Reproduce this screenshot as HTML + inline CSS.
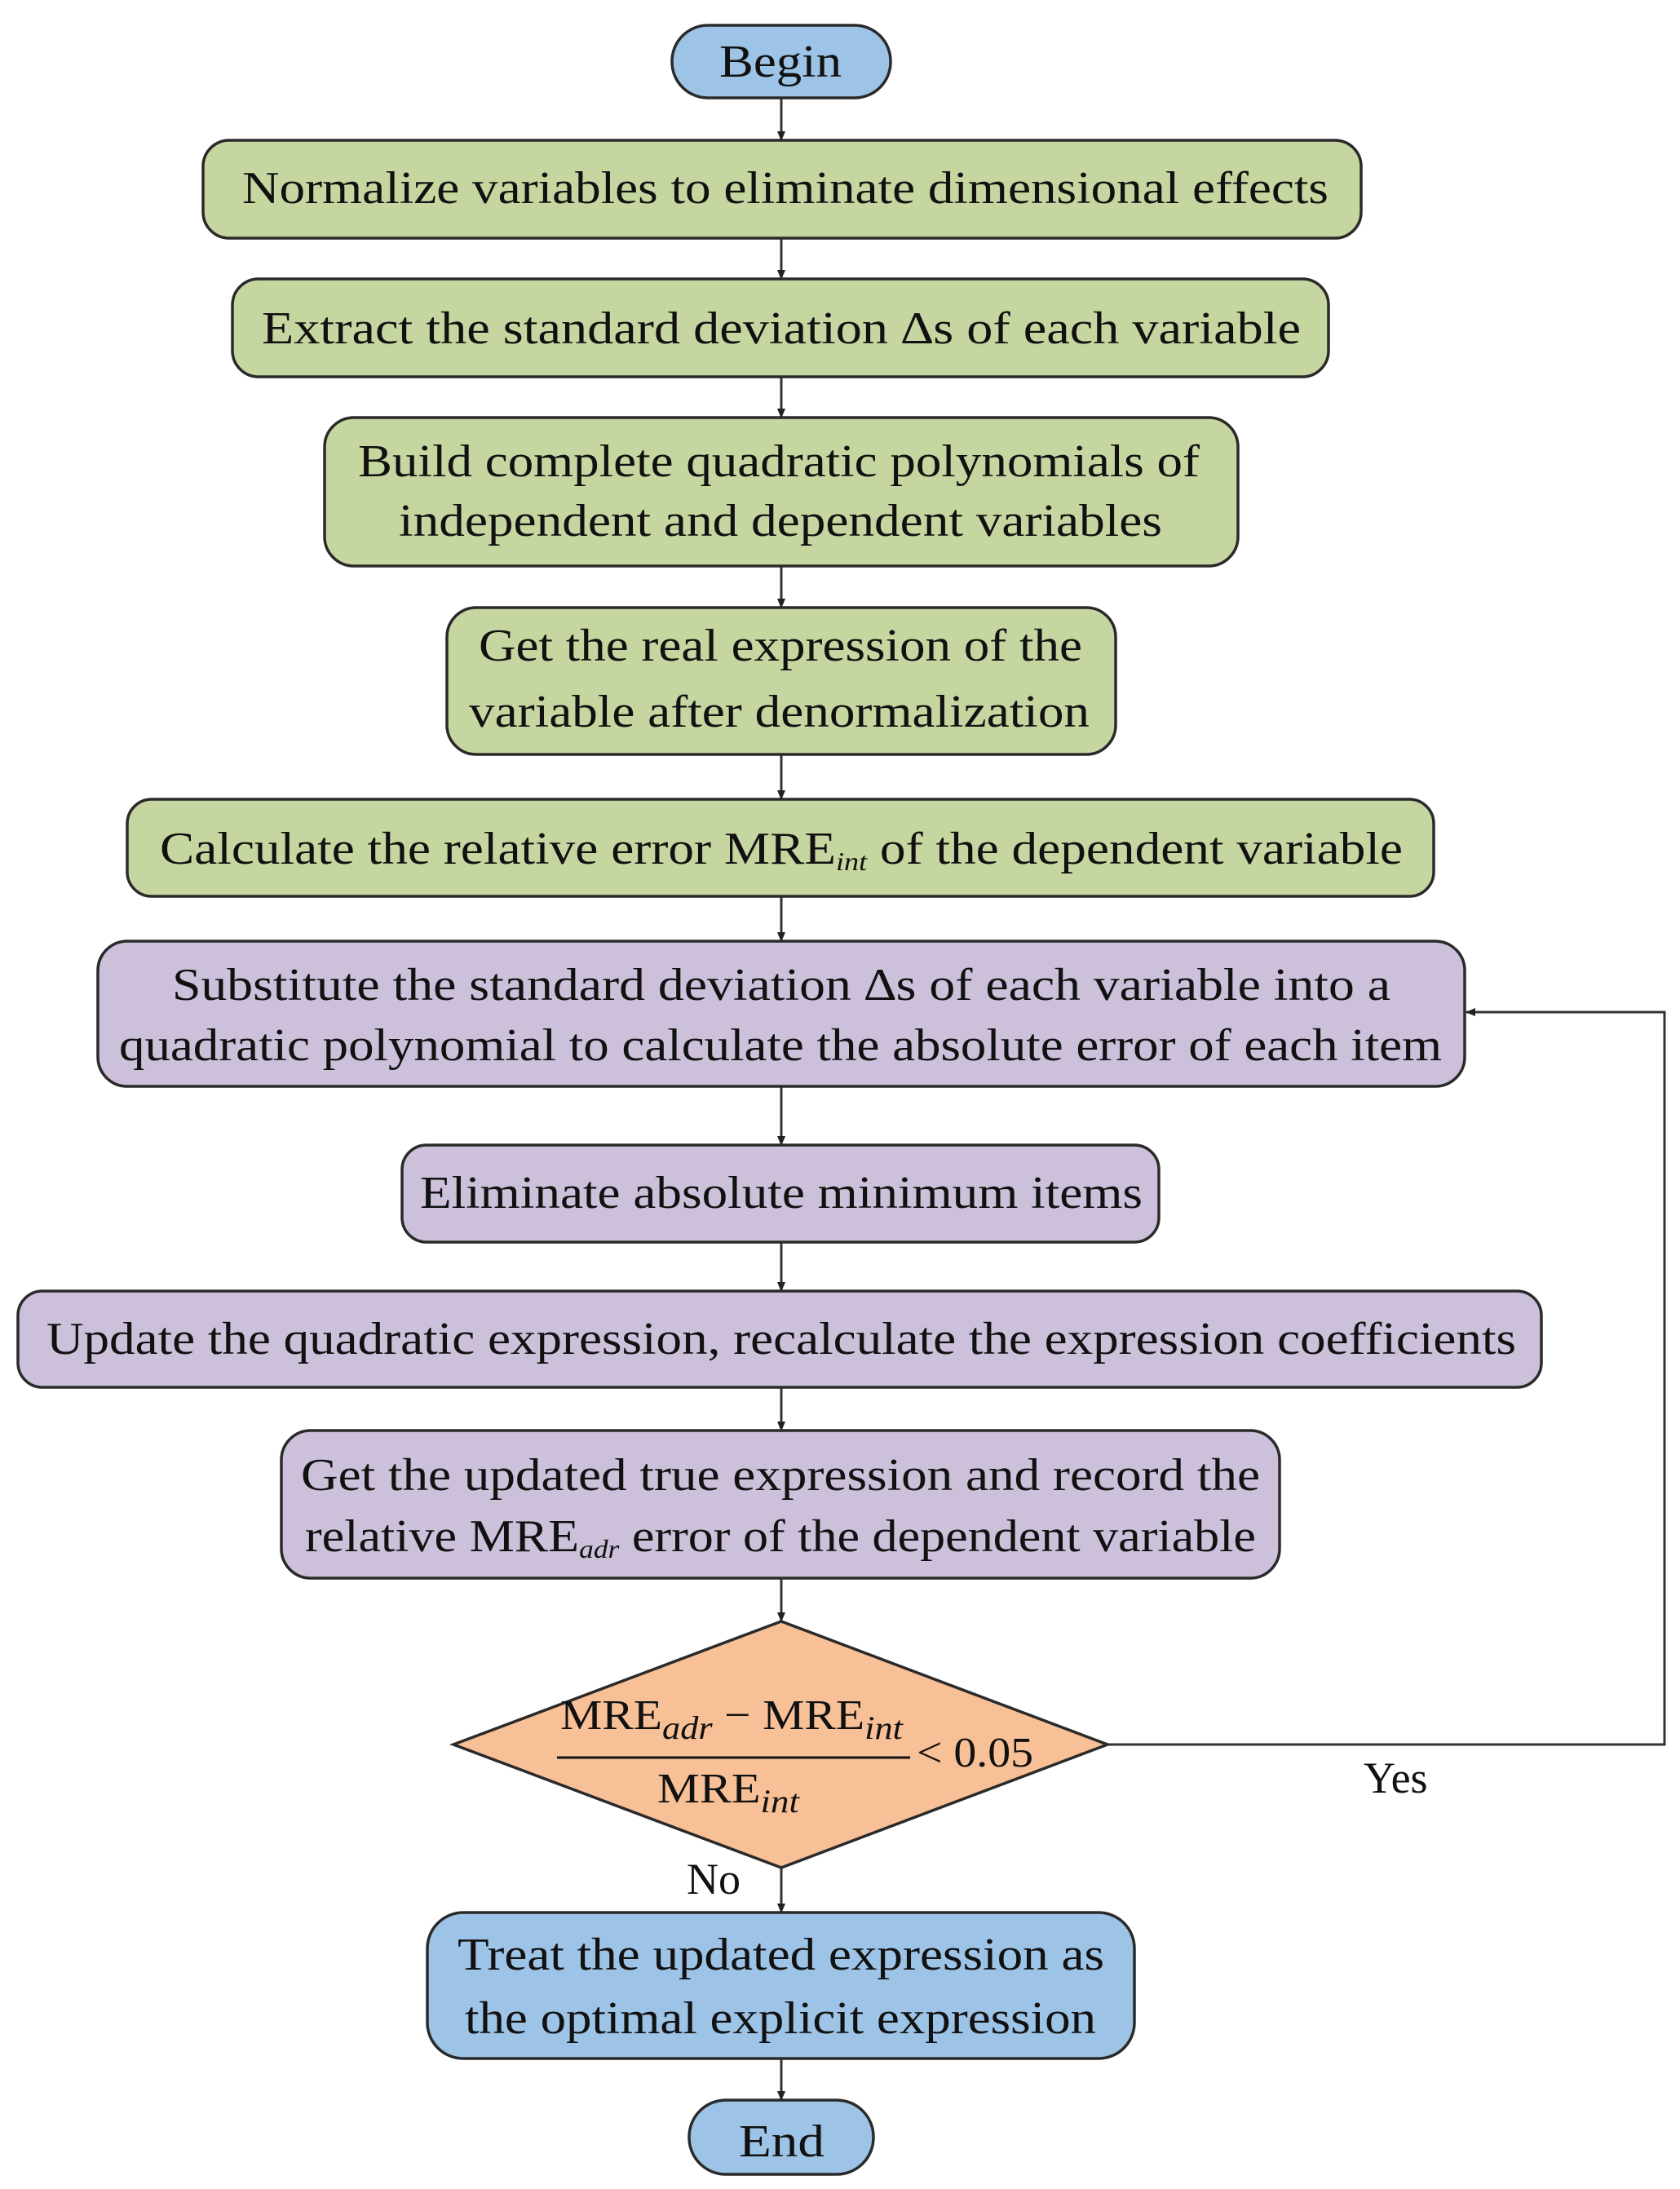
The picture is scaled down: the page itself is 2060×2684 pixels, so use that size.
<!DOCTYPE html>
<html><head><meta charset="utf-8"><style>html,body{margin:0;padding:0;background:#fff}svg{display:block}</style></head>
<body>
<svg width="2060" height="2684" viewBox="0 0 2060 2684" xmlns="http://www.w3.org/2000/svg" font-family="'Liberation Serif', serif" font-size="56" fill="#111">
<defs><marker id="a" markerWidth="12" markerHeight="12" refX="11" refY="6" orient="auto" markerUnits="userSpaceOnUse"><path d="M0,1 L12,6 L0,11 Z" fill="#222"/></marker></defs>
<g stroke="#333" stroke-width="3" fill="none">
<line x1="958" y1="120" x2="958" y2="172" marker-end="url(#a)"/>
<line x1="958" y1="292" x2="958" y2="342" marker-end="url(#a)"/>
<line x1="958" y1="462" x2="958" y2="512" marker-end="url(#a)"/>
<line x1="958" y1="694" x2="958" y2="745" marker-end="url(#a)"/>
<line x1="958" y1="925" x2="958" y2="980" marker-end="url(#a)"/>
<line x1="958" y1="1099" x2="958" y2="1154" marker-end="url(#a)"/>
<line x1="958" y1="1332" x2="958" y2="1404" marker-end="url(#a)"/>
<line x1="958" y1="1523" x2="958" y2="1583" marker-end="url(#a)"/>
<line x1="958" y1="1701" x2="958" y2="1754" marker-end="url(#a)"/>
<line x1="958" y1="1935" x2="958" y2="1988" marker-end="url(#a)"/>
<line x1="958" y1="2290" x2="958" y2="2345" marker-end="url(#a)"/>
<line x1="958" y1="2524" x2="958" y2="2575" marker-end="url(#a)"/>
<polyline points="1358,2139 2041,2139 2041,1241 1798,1241" marker-end="url(#a)"/>
</g>
<g stroke="#2a2a2a" stroke-width="3.5">
<rect x="824" y="31" width="268" height="89" rx="44" fill="#9dc3e6"/>
<rect x="249" y="172" width="1420" height="120" rx="32" fill="#c6d6a0"/>
<rect x="285" y="342" width="1344" height="120" rx="32" fill="#c6d6a0"/>
<rect x="398" y="512" width="1120" height="182" rx="36" fill="#c6d6a0"/>
<rect x="548" y="745" width="820" height="180" rx="36" fill="#c6d6a0"/>
<rect x="156" y="980" width="1602" height="119" rx="30" fill="#c6d6a0"/>
<rect x="120" y="1154" width="1676" height="178" rx="36" fill="#ccc0da"/>
<rect x="493" y="1404" width="928" height="119" rx="30" fill="#ccc0da"/>
<rect x="22" y="1583" width="1868" height="118" rx="30" fill="#ccc0da"/>
<rect x="345" y="1754" width="1224" height="181" rx="36" fill="#ccc0da"/>
<polygon points="958,1988 1358,2139 958,2290 556,2139" fill="#f8c096"/>
<rect x="524" y="2345" width="867" height="179" rx="44" fill="#9dc3e6"/>
<rect x="845" y="2575" width="226" height="91" rx="45" fill="#9dc3e6"/>
</g>
<text x="882" y="94" textLength="150" lengthAdjust="spacingAndGlyphs">Begin</text>
<text x="297" y="249" textLength="1332" lengthAdjust="spacingAndGlyphs">Normalize variables to eliminate dimensional effects</text>
<text x="321" y="421" textLength="1274" lengthAdjust="spacingAndGlyphs">Extract the standard deviation ∆s  of each variable</text>
<text x="439" y="584" textLength="1032" lengthAdjust="spacingAndGlyphs">Build complete quadratic polynomials of</text>
<text x="489" y="657" textLength="936" lengthAdjust="spacingAndGlyphs">independent and dependent variables</text>
<text x="587" y="810" textLength="740" lengthAdjust="spacingAndGlyphs">Get the real expression of the</text>
<text x="575" y="891" textLength="761" lengthAdjust="spacingAndGlyphs">variable after denormalization</text>
<text x="196" y="1059" textLength="1524" lengthAdjust="spacingAndGlyphs">Calculate the relative error MRE<tspan font-size="32" font-style="italic" dy="8">int</tspan><tspan dy="-8"> of the dependent variable</tspan></text>
<text x="211" y="1226" textLength="1494" lengthAdjust="spacingAndGlyphs">Substitute the standard deviation ∆s of each variable into a</text>
<text x="146" y="1300" textLength="1622" lengthAdjust="spacingAndGlyphs">quadratic polynomial to calculate the absolute error of each item</text>
<text x="515" y="1481" textLength="886" lengthAdjust="spacingAndGlyphs">Eliminate absolute minimum items</text>
<text x="57" y="1660" textLength="1802" lengthAdjust="spacingAndGlyphs">Update the quadratic expression, recalculate the expression coefficients</text>
<text x="369" y="1827" textLength="1176" lengthAdjust="spacingAndGlyphs">Get the updated true expression and record the</text>
<text x="374" y="1902" textLength="1166" lengthAdjust="spacingAndGlyphs">relative MRE<tspan font-size="32" font-style="italic" dy="8">adr</tspan><tspan dy="-8"> error of the dependent variable</tspan></text>
<text x="687" y="2120" font-size="52" textLength="420" lengthAdjust="spacingAndGlyphs">MRE<tspan font-size="40" font-style="italic" dy="12">adr</tspan><tspan dy="-12"> − MRE</tspan><tspan font-size="40" font-style="italic" dy="12">int</tspan></text>
<line x1="683" y1="2155" x2="1116" y2="2155" stroke="#111" stroke-width="3"/>
<text x="806" y="2210" font-size="52" textLength="174" lengthAdjust="spacingAndGlyphs">MRE<tspan font-size="40" font-style="italic" dy="12">int</tspan></text>
<text x="1124" y="2166" font-size="52" textLength="143" lengthAdjust="spacingAndGlyphs">&lt; 0.05</text>
<text x="1672" y="2198" font-size="54">Yes</text>
<text x="842" y="2322" font-size="54">No</text>
<text x="561" y="2415" textLength="793" lengthAdjust="spacingAndGlyphs">Treat the updated expression as</text>
<text x="570" y="2493" textLength="774" lengthAdjust="spacingAndGlyphs">the optimal explicit expression</text>
<text x="906" y="2644" textLength="105" lengthAdjust="spacingAndGlyphs">End</text>
</svg>
</body></html>
